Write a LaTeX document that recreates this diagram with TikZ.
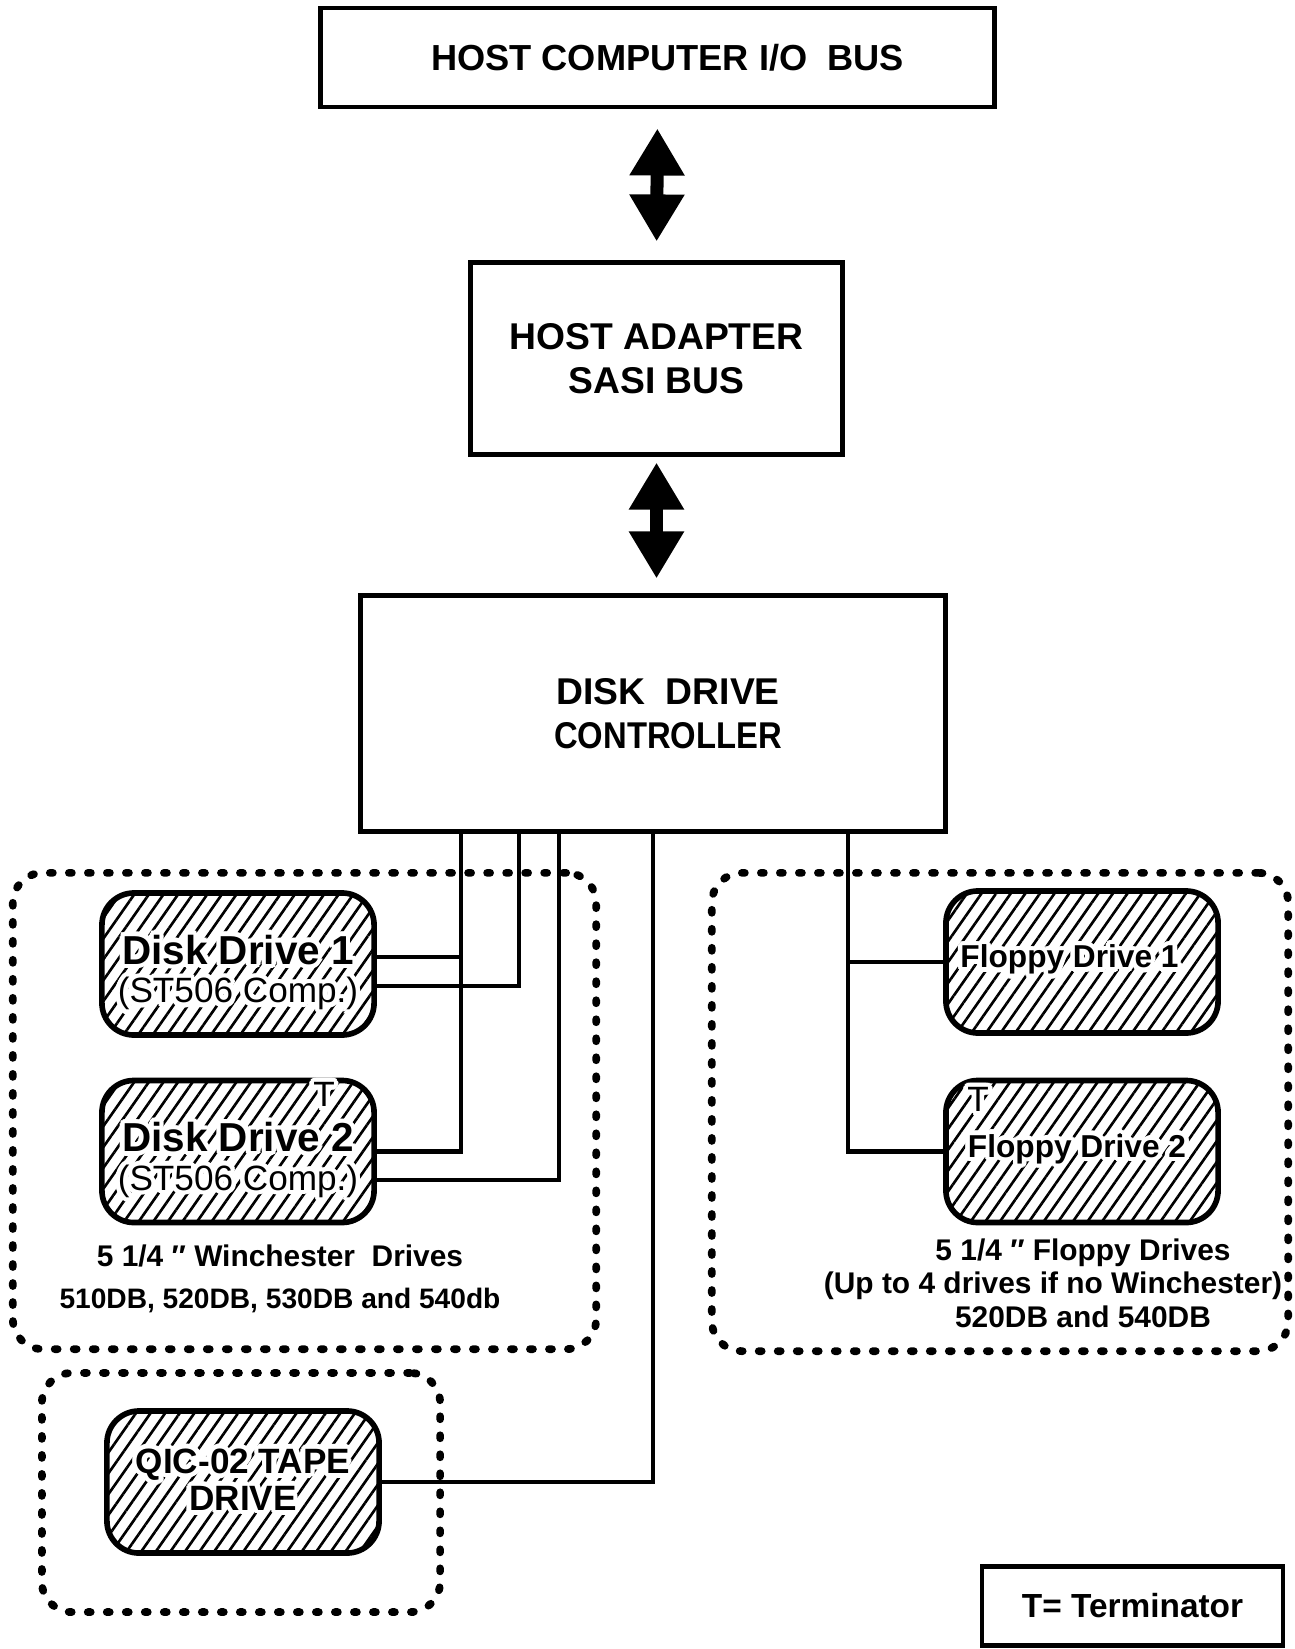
\documentclass[tikz,border=0pt]{standalone}
\usepackage{fontspec}
\setmainfont{Liberation Sans}
\usepackage{contour}
\contourlength{1.3pt}
\usepackage{tikz}
\usetikzlibrary{positioning,arrows.meta,patterns.meta}

\newcommand{\halo}[1]{\contour{white}{#1}}

\begin{document}
\begin{tikzpicture}[x=0.01cm, y=-0.01cm,
  box/.style={draw, line width=1.4pt, align=center, inner sep=0pt,
              font=\fontsize{10.6}{12.5}\selectfont\bfseries},
  drive/.style={draw, line width=1.6pt, rounded corners=0.32cm,
                minimum width=2.72cm, minimum height=1.42cm, align=center, inner sep=0pt,
                pattern={Lines[angle=55,distance=3.4pt,line width=0.75pt]},
                font=\fontsize{11.5}{11}\selectfont\bfseries},
  group/.style={draw, line width=2.2pt, line cap=round, dash pattern=on 0.03cm off 0.16cm,
                rounded corners=0.3cm, inner sep=0pt},
  note/.style={align=center, inner sep=0pt, font=\fontsize{8.5}{9.5}\selectfont\bfseries},
  tmark/.style={inner sep=0pt, font=\fontsize{10}{10}\selectfont},
  wire/.style={line width=1.3pt},
  thinwire/.style={line width=0.9pt},
  dbl/.style={line width=0.13cm, arrows={Triangle[length=0.47cm,width=0.52cm]-Triangle[length=0.47cm,width=0.52cm]}}
]
  \useasboundingbox (0,0) rectangle (1294,1649);

  % dotted groups
  \node[group, minimum width=5.83cm, minimum height=4.76cm] (wgrp) at (304.5,1111) {};
  \node[group, minimum width=5.76cm, minimum height=4.78cm] (fgrp) at (1000,1112) {};
  \node[group, minimum width=3.98cm, minimum height=2.39cm] (tgrp) at (241,1492.5) {};

  % main chain
  \node[box, minimum width=6.73cm, minimum height=0.99cm, font=\fontsize{10.3}{12}\selectfont\bfseries]
    (host) at (657.5,57.5) {\hspace*{0.2cm}HOST COMPUTER I/O\ \ BUS};
  \node[box, minimum width=3.71cm, minimum height=1.91cm] (adapter) at (656.5,358.5) {HOST ADAPTER\\SASI BUS};
  \node[box, minimum width=5.84cm, minimum height=2.35cm] (ctrl) at (653,713.5)
    {\hspace*{0.3cm}DISK\ \ DRIVE\\\hspace*{0.3cm}{\addfontfeatures{FakeStretch=0.88}CONTROLLER}};

  % drives
  \node[drive] (dd1) at (238,964)
    {\rule{0pt}{14.5pt}\halo{Disk Drive 1}\\\mdseries\fontsize{10}{11}\selectfont\halo{(ST506 Comp.)}};
  \node[drive] (dd2) at (238,1151.5)
    {\rule{0pt}{14.5pt}\halo{Disk Drive 2}\\\mdseries\fontsize{10}{11}\selectfont\halo{(ST506 Comp.)}};
  \node[drive, font=\fontsize{9}{10}\selectfont\bfseries] (fd1) at (1082,962) {\halo{Floppy Drive 1}\hspace*{0.25cm}};
  \node[drive, font=\fontsize{9}{10}\selectfont\bfseries] (fd2) at (1082,1151.5) {\halo{Floppy Drive 2}\hspace*{0.1cm}};
  \node[drive, font=\fontsize{10}{10.5}\selectfont\bfseries] (tape) at (243,1482) {\halo{QIC-02 TAPE}\\\halo{DRIVE}};
  \node[tmark] (t1) at (324,1097) {\halo{T}};
  \node[tmark] (t2) at (978,1102) {\halo{T}};

  % captions
  \node[note] (wcap) at (280,1279)
    {5 1/4 ″ Winchester\ \ Drives\\[2.5pt]{\fontsize{8}{9.5}\selectfont 510DB, 520DB, 530DB and 540db}};
  \node[note] (fcap) at (1053,1283)
    {\hspace*{0.6cm}5 1/4 ″ Floppy Drives\\(Up to 4 drives if no Winchester)\\\hspace*{0.6cm}520DB and 540DB};
  \node[box, minimum width=3.01cm, minimum height=0.79cm, line width=1.2pt,
        font=\fontsize{9.5}{10}\selectfont\bfseries] (term) at (1132.5,1606) {T= Terminator};

  % bus arrows
  \draw[dbl, shorten <=0.19cm, shorten >=0.19cm] (host.south) -- (adapter.north);
  \draw[dbl, shorten <=0.06cm, shorten >=0.15cm] (adapter.south) -- (adapter.south |- ctrl.north);

  % cables
  \draw[wire] ([xshift=-1.92cm]ctrl.south) |- (dd2.east);
  \draw[wire] ([yshift=0.07cm]dd1.east) -| ([xshift=-1.92cm]ctrl.south);
  \draw[thinwire] ([yshift=-0.22cm]dd1.east) -| ([xshift=-1.34cm]ctrl.south);
  \draw[thinwire] ([yshift=-0.285cm]dd2.east) -| ([xshift=-0.94cm]ctrl.south);
  \draw[wire] (tape.east) -| (ctrl.south);
  \draw[wire] ([xshift=1.95cm]ctrl.south) |- (fd2.west);
  \draw[wire] (fd1.west) -| ([xshift=1.95cm]ctrl.south);
\end{tikzpicture}
\end{document}
